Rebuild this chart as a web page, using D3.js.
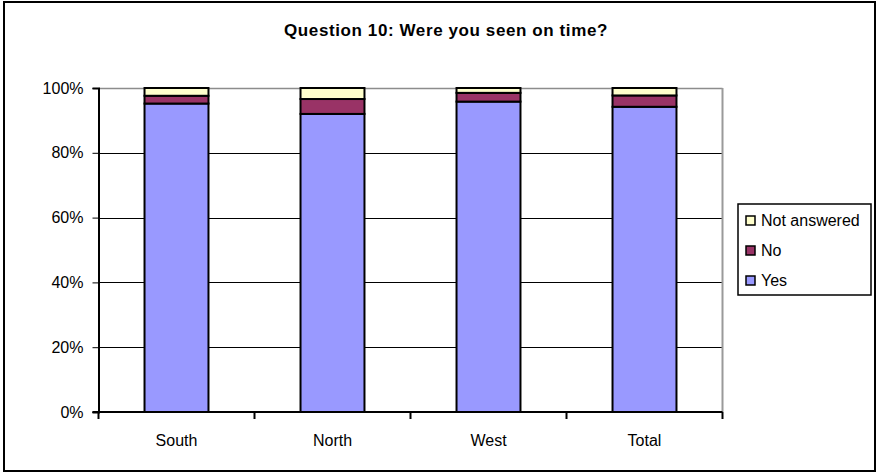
<!DOCTYPE html>
<html>
<head>
<meta charset="utf-8">
<script src="https://cdn.jsdelivr.net/npm/d3@7"></script>
<style>
  body { margin: 0; background: #fff; }
  text { font-family: "Liberation Sans", Arial, sans-serif; }
</style>
</head>
<body>
<div id="chart"></div>
<script>
// values (percent)
var categories = ["South", "North", "West", "Total"];
var yesVals = [95.2, 92.0, 95.8, 94.2];
var noVals = [2.4, 4.6, 2.7, 3.5];
var naVals = [2.4, 3.4, 1.5, 2.3];
var seriesNames = ["Yes", "No", "Not answered"];
var seriesColors = ["#9999ff", "#993366", "#ffffcc"];
var yTicks = [0, 20, 40, 60, 80, 100];

var W = 877, H = 473;
var svg = d3.select("#chart").append("svg")
    .attr("width", W).attr("height", H);

// outer frame
svg.append("rect")
    .attr("x", 4).attr("y", 2).attr("width", 871).attr("height", 469)
    .attr("fill", "#fff").attr("stroke", "#000").attr("stroke-width", 2);

svg.append("text")
    .attr("x", 446).attr("y", 36)
    .attr("text-anchor", "middle")
    .style("font-size", "17px").style("font-weight", "bold")
    .style("letter-spacing", "0.6px")
    .text("Question 10: Were you seen on time?");

var plot = {left: 98.5, right: 722.5, top: 88, bottom: 412};

var x = d3.scaleBand().domain(categories)
    .range([plot.left, plot.right]).paddingInner(0.59).paddingOuter(0.295);
var xb = d3.scaleBand().domain(categories).range([plot.left, plot.right]);
var y = d3.scaleLinear().domain([0, 100]).range([plot.bottom, plot.top]);

// gridlines
svg.append("g").selectAll("line").data(yTicks.filter(function(d){ return d > 0; }))
  .enter().append("line")
    .attr("x1", plot.left).attr("x2", plot.right)
    .attr("y1", function(d){ return Math.round(y(d)) + 0.5; })
    .attr("y2", function(d){ return Math.round(y(d)) + 0.5; })
    .attr("stroke", function(d){ return d === 100 ? "#8c8c8c" : "#000"; })
    .attr("stroke-width", function(d){ return d === 100 ? 1.5 : 1; });

// plot area right edge
svg.append("line")
    .attr("x1", plot.right).attr("x2", plot.right)
    .attr("y1", plot.top).attr("y2", plot.bottom)
    .attr("stroke", "#9a9a9a").attr("stroke-width", 2);

// stacked bars
var rows = categories.map(function(c, i){
  return {cat: c, Yes: yesVals[i], No: noVals[i], "Not answered": naVals[i]};
});
var stack = d3.stack().keys(seriesNames)(rows);

svg.append("g").selectAll("g").data(stack).enter().append("g")
    .attr("fill", function(d, i){ return seriesColors[i]; })
  .selectAll("rect").data(function(d){ return d; }).enter().append("rect")
    .attr("x", function(d){ return x(d.data.cat); })
    .attr("width", x.bandwidth())
    .attr("y", function(d){ return y(d[1]); })
    .attr("height", function(d){ return y(d[0]) - y(d[1]); })
    .attr("stroke", "#000").attr("stroke-width", 2);

// y axis
var yAxis = svg.append("g")
    .attr("transform", "translate(" + plot.left + ",0)")
    .call(d3.axisLeft(y).tickValues(yTicks)
      .tickFormat(function(d){ return d + "%"; }).tickSize(6).tickPadding(9));
yAxis.select(".domain").attr("stroke", "#000").attr("stroke-width", 2);
yAxis.selectAll("text").style("font-size", "16px").attr("fill", "#000");

// x axis with ticks between categories
var xAxis = svg.append("g")
    .attr("transform", "translate(0," + plot.bottom + ")");
xAxis.append("line")
    .attr("x1", plot.left - 6).attr("x2", plot.right)
    .attr("stroke", "#000").attr("stroke-width", 2);
xAxis.selectAll(".tk").data(categories.concat(["end"])).enter().append("line")
    .attr("x1", function(d, i){ return plot.left + i * xb.bandwidth(); })
    .attr("x2", function(d, i){ return plot.left + i * xb.bandwidth(); })
    .attr("y1", 0).attr("y2", 7)
    .attr("stroke", "#000").attr("stroke-width", 2);
xAxis.selectAll("text").data(categories).enter().append("text")
    .attr("x", function(d){ return xb(d) + xb.bandwidth() / 2; })
    .attr("y", 34)
    .attr("text-anchor", "middle")
    .style("font-size", "16px")
    .text(function(d){ return d; });

// legend
var legend = svg.append("g");
legend.append("rect")
    .attr("x", 738).attr("y", 204).attr("width", 133).attr("height", 91)
    .attr("fill", "#fff").attr("stroke", "#000").attr("stroke-width", 1.5);
var legendOrder = [2, 1, 0];
var li = legend.selectAll(".li").data(legendOrder).enter().append("g")
    .attr("transform", function(d, i){ return "translate(746," + (220 + i * 30) + ")"; });
li.append("rect")
    .attr("x", 0).attr("y", -4).attr("width", 9).attr("height", 9)
    .attr("fill", function(d){ return seriesColors[d]; })
    .attr("stroke", "#000").attr("stroke-width", 1.5);
li.append("text")
    .attr("x", 15).attr("y", 6)
    .style("font-size", "16px")
    .text(function(d){ return seriesNames[d]; });
</script>
</body>
</html>
